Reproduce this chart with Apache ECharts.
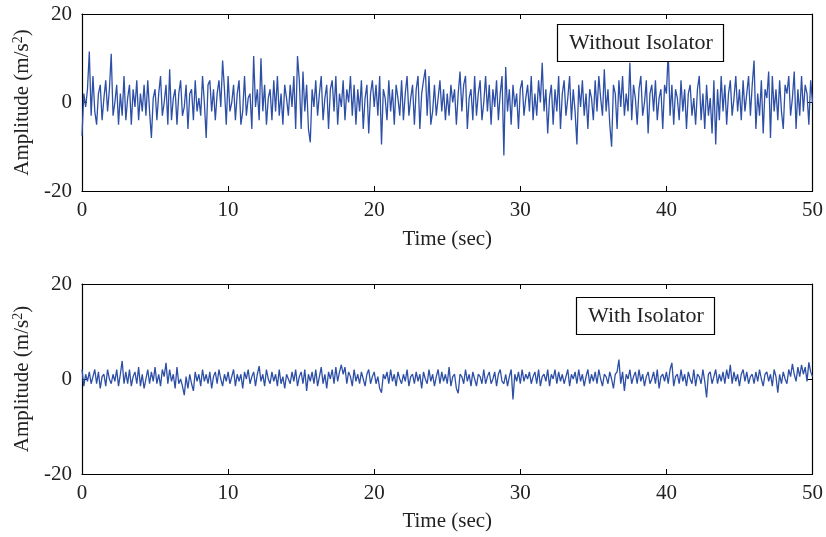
<!DOCTYPE html>
<html>
<head>
<meta charset="utf-8">
<script src="https://cdn.jsdelivr.net/npm/echarts@6/dist/echarts.min.js"></script>
<style>
  html, body { margin: 0; padding: 0; background: #fff; }
  #chart { width: 826px; height: 537px; }
</style>
</head>
<body>
<div id="chart"></div>
<script>
// Acceleration records sampled every 0.125 s over 0–50 s
const sampleStep = 0.125;
const xTicks = [0, 10, 20, 30, 40, 50];
const yTicks = [-20, 0, 20];

const withoutIsolator = [
  -7.5, 2, -1, 3, 11.5, -3, 6, -2,
  -5, 2, 4, -4, 1, 5, -2, 3,
  11, -3, 0, 4, -5, 2, -3, 6,
  -4, 1, 4, -5, 3, -1, 5, -4,
  2, -2, 4, -3, 5, -2, -8, 1,
  3, -4, 2, 6, -3, 0, 4, -5,
  7.5, -4, 1, 3, -5, 2, 5, -3,
  -1, 4, -6, 2, 3, -4, 5, -2,
  1, -3, 6, 0, -8, 4, 5, -2,
  3, -4, 2, 5, -1, 9.5, 3, -5,
  6, -2, 0, 4, -4, 2, 5, -5,
  -2, 6, -3, 1, 2, -6, 10.5, -1,
  3, -4, 10, -2, 4, -5, 1, 3,
  -4, 5, -2, 6, -3, 2, -5, 4,
  1, -3, 4, -1, 6, -6, 10.5, 5,
  -6, 7, -2, 4, -6, -9, 3, -1,
  5, -3, 2, 6, -4, 1, 4, -6,
  3, 5, -2, 6, -5, 2, -1, 5,
  -4, 3, 0, 6, -3, 4, -5, 3,
  -2, 5, -6, 1, 4, -7, 2, 5,
  -1, 4, -3, 6, -9.5, 3, 1, -4,
  5, -2, 3, -5, 4, 1, -3, 5,
  -4, 2, 6, -3, 1, 4, -5, 3,
  6, -6, 2, 5, 7.5, -3, 6, -5,
  -2, 4, -3, 1, 5, -2, 3, -4,
  2, -3, 4, 0, 3, -5, 2, 7,
  -2, 4, 6, -6, 1, 3, -4, 6,
  -3, 2, 5, -4, 0, 6, -2, 4,
  -5, 3, -1, 5, -4, 2, 6, -12,
  8, -2, 3, -5, 4, -1, 2, -6,
  3, 5, -3, 1, 4, -2, 6, -4,
  2, -3, 5, 0, 9, -2, 3, -7,
  1, 4, -5, 3, -2, 6, -6, 2,
  5, -3, 1, 6, -4, 3, -2, -9.5,
  4, -1, 5, -3, 2, -6, 3, 1,
  -4, 5, -2, 6, 1, -3, 7.5, -2,
  3, -5, -10, 4, 2, -6, 5, -1,
  6, -3, 2, -2, 9, -4, 4, 1,
  -5, 3, 6, -3, 0, 5, -7, 2,
  4, -2, 5, -4, 1, 3, -6, 4,
  2, 11.5, -3, 4, -5, 3, 1, -4,
  5, -2, 3, -6, 2, 4, -3, 1,
  -5, 3, 6, -4, 2, -6, 4, -3,
  1, -7, 5, -9.5, 3, -4, 6, -2,
  4, -5, 2, 5, -3, 1, 6, -2,
  3, -4, 5, -2, 2, 6, -3, 4,
  9.5, -6, 2, -3, 5, -7, 3, 1,
  7, -8, 6, -2, 3, -4, 5, -2,
  -6, 4, 2, 6, -3, 1, 7, -6,
  3, -3, 6, -2, 4, 2, -5, 5,
  0
];

const withIsolator = [
  2, -1.5, 1, -0.5, 1.5, -1, 0.5, 2,
  -1, 1.5, -2, 0.5, 1, -1.5, 2, 0,
  -1, 1, -0.5, 2, -1.5, 1, 3.8, -1,
  1.5, -1, 2, -1.5, 0.5, 1.5, -1, 2.5,
  -1.5, 1, -2, 0, 2, -1, 1.5, -0.5,
  2.5, -1, 1, -1.5, 2, 0.5, 3.4, -1,
  2, -0.5, 1, -2, 2.5, -1, 0, -1.5,
  -3.4, 0.5, -2, 1, -1, -2.5, 1.5, -0.5,
  1, -1.5, 2, -0.5, 1, -1, 1.5, -2,
  0.5, 1.5, -1, 2, 0, -1.5, 1, -0.5,
  1.5, -1, 0.5, 2, -1.5, 1, -0.5, 1,
  -2, 1.5, 0, 2, -1, 0.5, 1.5, -1.5,
  1, 2.7, -0.5, 1, -1.5, 2, 0, -1,
  1.5, -0.5, 1, -1.5, 2, -1, 0.5, -2,
  1, 0, -1, 1.5, -0.5, 2, -1.5, 0.5,
  1.5, -1, 2, -2.5, 1, -0.5, 1.5, -1,
  2, -1.5, 0.5, 2.5, -1, 1, -2, 1.5,
  0, 2, -1, 2.5, -0.5, 1.5, 3, 1,
  2.5, -1, 1.5, 0.5, -1.5, 2, -0.5, 1,
  -1, 1.5, 0, -1.5, 1, 2, -1, 0.5,
  1.5, -1, 0.5, -2, -2.9, 1, 0, 1.5,
  -1, 2, -0.5, 1, -1.5, 1.5, 0, -1,
  1, -0.5, 2, -1.5, 0.5, 1, -1, 1.5,
  -0.5, 1, -2, 1.5, 0, -1, 2, -0.5,
  1, -1.5, 0.5, 2, -1, 1.5, -0.5, 1,
  -1, 2.5, -1.5, 0.5, 1, -2, -3, 1,
  0.5, -1, 2, -0.5, 1, -1.5, 1.5, 0,
  -1.5, 1, 0.5, -1, 2, -1, 0.5, 1.5,
  -1, 0, 1.5, -1.5, 1, 2, -0.5, -1,
  1, -1.5, 0.5, 2, -4.3, 1, -0.5, 1.5,
  -1, 2, -0.5, 1, 0, 1.5, -1, 0.5,
  1.5, -1, 2, -1.5, 0.5, 1, -0.5, 2,
  -1.5, 1, 0, 2, -1, 1.5, -0.5, 1,
  -1, 0.5, 2, -1.5, 1, 0, 1.5, -1,
  2, -0.5, 1, -1.5, 0.5, 2, -1, 1,
  -0.5, 1.5, -1, 2, 0, -1.5, 1, 0.5,
  -1, 1.5, 0, -2, 1, 1.5, 4.1, -1,
  1.5, -2.5, 1, 0, 2, -1, 0.5, 1.5,
  -1, 2, -0.5, 1, -1.5, 0.5, 1.5, -1,
  0, 1.5, -1, 2, -2, 0.5, 1, -0.5,
  1.5, -1, 2, 3.4, -1.5, 0.5, 1, -1,
  2, -0.5, 1, -1.5, 1.5, 0, -1, 2,
  -1.5, 1, 0.5, -1, 2, -0.5, -3.9, 1,
  1.5, -1, 0.5, 2, -1, 1, -0.5, 1.5,
  -1, 2, 0, 3, -1, 1.5, -0.5, 1,
  -1.5, 1, 2, -0.5, 1.5, -1, 0.5, 1,
  -1, 1.5, -0.5, 2, 0, -1.5, 1, 1.5,
  -0.5, 1, -1.5, 2, 0.5, -2.9, 1, -1,
  1.5, 0, -1, 2, 0.5, 3.2, 1, -0.5,
  2.5, 0.5, 3, 1, 2.5, -0.5, 3.5, 1.5,
  0.5
];

const toPairs = arr => arr.map((v, i) => [i * sampleStep, v]);

const FONT = '"Liberation Serif", "Times New Roman", serif';
const INK = '#222';
const LINE = '#2d4fa6';

function xAxisPair(gridIndex, gap) {
  return [
    {
      type: 'value', gridIndex, min: xTicks[0], max: xTicks[xTicks.length - 1], interval: 10,
      position: 'bottom',
      name: 'Time (sec)', nameLocation: 'middle', nameGap: gap,
      nameTextStyle: { fontFamily: FONT, fontSize: 21, color: INK },
      axisLine: { show: true, onZero: false, lineStyle: { color: '#000', width: 1.2 } },
      axisTick: { show: true, inside: true, length: 5, lineStyle: { color: '#000' } },
      axisLabel: { fontFamily: FONT, fontSize: 21, color: INK, margin: 9 },
      splitLine: { show: false }
    },
    {
      type: 'value', gridIndex, min: xTicks[0], max: xTicks[xTicks.length - 1], interval: 10,
      position: 'top',
      axisLine: { show: true, onZero: false, lineStyle: { color: '#000', width: 1.2 } },
      axisTick: { show: true, inside: true, length: 5, lineStyle: { color: '#000' } },
      axisLabel: { show: false },
      splitLine: { show: false }
    }
  ];
}

function yAxisPair(gridIndex) {
  return [
    {
      type: 'value', gridIndex, min: yTicks[0], max: yTicks[yTicks.length - 1], interval: 20,
      position: 'left',
      name: 'Amplitude (m/s{sup|2})', nameLocation: 'middle', nameGap: 47,
      nameTextStyle: {
        fontFamily: FONT, fontSize: 21, color: INK,
        rich: { sup: { fontFamily: FONT, fontSize: 14, color: INK, verticalAlign: 'top', padding: [0, 0, 9, 0] } }
      },
      axisLine: { show: true, onZero: false, lineStyle: { color: '#000', width: 1.2 } },
      axisTick: { show: true, inside: true, length: 5, lineStyle: { color: '#000' } },
      axisLabel: { fontFamily: FONT, fontSize: 21, color: INK, margin: 10 },
      splitLine: { show: false }
    },
    {
      type: 'value', gridIndex, min: yTicks[0], max: yTicks[yTicks.length - 1], interval: 20,
      position: 'right',
      axisLine: { show: true, onZero: false, lineStyle: { color: '#000', width: 1.2 } },
      axisTick: { show: true, inside: true, length: 5, lineStyle: { color: '#000' } },
      axisLabel: { show: false },
      splitLine: { show: false }
    }
  ];
}

const boxTitle = (text, left, top) => ({
  text,
  left, top,
  padding: [8, 11, 8, 12],
  borderColor: '#000',
  borderWidth: 1.2,
  backgroundColor: '#fff',
  textStyle: { fontFamily: FONT, fontSize: 22, fontWeight: 'normal', color: INK }
});

const chart = echarts.init(document.getElementById('chart'), null, { renderer: 'canvas' });
chart.setOption({
  animation: false,
  backgroundColor: '#fff',
  title: [
    boxTitle('Without Isolator', 557, 24),
    boxTitle('With Isolator', 576, 297)
  ],
  grid: [
    { left: 82, top: 14, width: 733, height: 177 },
    { left: 82, top: 284, width: 733, height: 190 }
  ],
  xAxis: [...xAxisPair(0, 38), ...xAxisPair(1, 37)],
  yAxis: [...yAxisPair(0), ...yAxisPair(1)],
  series: [
    {
      name: 'Without Isolator', type: 'line', xAxisIndex: 0, yAxisIndex: 0,
      data: toPairs(withoutIsolator), showSymbol: false, symbol: 'none',
      lineStyle: { color: LINE, width: 1.3 }, z: 1
    },
    {
      name: 'With Isolator', type: 'line', xAxisIndex: 2, yAxisIndex: 2,
      data: toPairs(withIsolator), showSymbol: false, symbol: 'none',
      lineStyle: { color: LINE, width: 1.3 }, z: 1
    }
  ]
});
</script>
</body>
</html>
